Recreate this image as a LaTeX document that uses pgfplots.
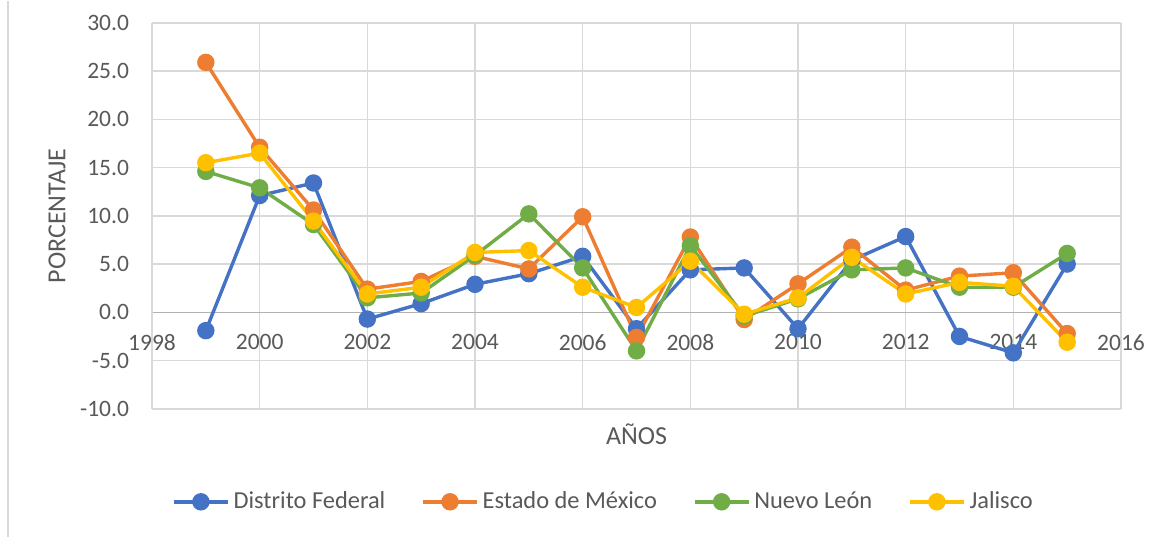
\documentclass[border=0pt]{standalone}
\usepackage{fontspec}
\setmainfont{Carlito}
\usepackage{pgfplots}
\pgfplotsset{compat=1.18}

\definecolor{cblue}{HTML}{4472C4}
\definecolor{corange}{HTML}{ED7D31}
\definecolor{cgreen}{HTML}{70AD47}
\definecolor{cyellow}{HTML}{FFC000}
\definecolor{txt}{HTML}{595959}
\definecolor{grd}{HTML}{D9D9D9}

\begin{document}
\begin{tikzpicture}
\begin{axis}[
  scale only axis,
  width=484.5pt, height=193pt,
  xmin=1998, xmax=2016, ymin=-10, ymax=30,
  xtick={1998,2000,...,2016},
  ytick={-10,-5,...,30},
  axis x line*=middle, axis y line*=left,
  hide obscured x ticks=false,
  x axis line style={draw=black!30, line width=0.8pt, -},
  y axis line style={draw=grd, line width=0.8pt, -},
  major tick length=0pt,
  grid=major,
  major grid style={draw=grd, line width=0.8pt},
  tick label style={font=\fontsize{11.75}{14}\selectfont, text=txt},
  x tick label style={/pgf/number format/1000 sep=, yshift=-7.5pt},
  y tick label style={xshift=-8pt},
  yticklabel style={/pgf/number format/.cd, fixed, fixed zerofill, precision=1},
  /pgf/number format/assume math mode=true,
  xlabel={AÑOS}, ylabel={PORCENTAJE},
  label style={font=\fontsize{13}{15}\selectfont, text=txt},
  xlabel style={at={(rel axis cs:0.5,0)}, anchor=center, yshift=-12.5pt},
  ylabel style={at={(rel axis cs:0,0.5)}, anchor=center, rotate=0, yshift=47.5pt},
  every axis plot/.append style={line width=1.7pt, mark=*, mark size=3.5pt},
  legend style={at={(rel axis cs:0.5,0)}, anchor=center, yshift=-46.5pt, xshift=-16pt,
    draw=none, legend columns=-1, font=\fontsize{12.2}{14}\selectfont, text=txt,
    nodes={inner xsep=2pt},
    /tikz/every even column/.append style={column sep=16pt}},
  legend image code/.code={\draw[#1, mark repeat=2, mark phase=2] plot coordinates {(0pt,0pt) (13.5pt,0pt) (27pt,0pt)};},
  clip=false,
]
\coordinate (sw) at (rel axis cs:0,0);
\addplot[cblue] coordinates {
(1999,-1.9) (2000,12.1) (2001,13.4) (2002,-0.7) (2003,0.9) (2004,2.9) (2005,4.0) (2006,5.8)
(2007,-1.7) (2008,4.4) (2009,4.6) (2010,-1.7) (2011,5.4) (2012,7.85) (2013,-2.5) (2014,-4.2) (2015,5.0)};
\addplot[corange] coordinates {
(1999,25.9) (2000,17.1) (2001,10.6) (2002,2.4) (2003,3.2) (2004,5.8) (2005,4.5) (2006,9.9)
(2007,-2.6) (2008,7.8) (2009,-0.75) (2010,2.95) (2011,6.75) (2012,2.3) (2013,3.75) (2014,4.1) (2015,-2.2)};
\addplot[cgreen] coordinates {
(1999,14.6) (2000,12.9) (2001,9.1) (2002,1.5) (2003,2.0) (2004,5.9) (2005,10.2) (2006,4.6)
(2007,-4.0) (2008,6.9) (2009,-0.4) (2010,1.4) (2011,4.4) (2012,4.6) (2013,2.6) (2014,2.6) (2015,6.1)};
\addplot[cyellow] coordinates {
(1999,15.5) (2000,16.5) (2001,9.45) (2002,1.9) (2003,2.6) (2004,6.2) (2005,6.4) (2006,2.6)
(2007,0.5) (2008,5.3) (2009,-0.2) (2010,1.5) (2011,5.7) (2012,1.9) (2013,3.1) (2014,2.7) (2015,-3.1)};
\legend{Distrito Federal, Estado de México, Nuevo León, Jalisco}
\end{axis}
\path ([shift={(-76pt,-64pt)}]sw) rectangle ([shift={(507.5pt,204pt)}]sw);
\draw[grd, line width=0.8pt] ([shift={(-72pt,-64pt)}]sw) -- ([shift={(-72pt,204pt)}]sw);
\end{tikzpicture}
\end{document}
